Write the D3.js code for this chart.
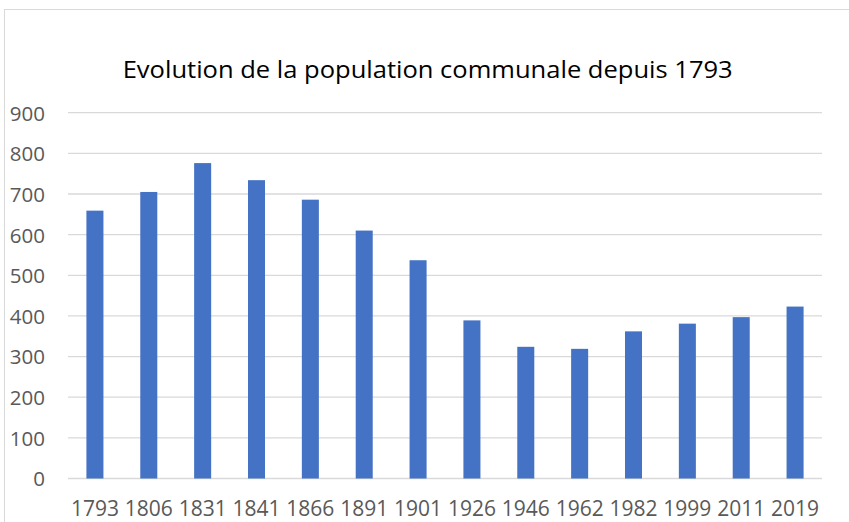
<!DOCTYPE html>
<html>
<head>
<meta charset="utf-8">
<script src="https://cdn.jsdelivr.net/npm/d3@7"></script>
<style>
  body { margin: 0; background: #fff; }
  svg text { font-family: "Open Sans", sans-serif; }
</style>
</head>
<body>
<svg id="chart"></svg>
<script>

/////////////////////////////////
// DATA
//////////////////////////////////

var years = ["1793", "1806", "1831", "1841", "1866", "1891", "1901", "1926", "1946", "1962", "1982", "1999", "2011", "2019"];
var population = [659, 705, 776, 734, 686, 610, 537, 389, 324, 319, 362, 381, 397, 423];
var yTicks = [0, 100, 200, 300, 400, 500, 600, 700, 800, 900];
var chartTitle = "Evolution de la population communale depuis 1793";


/////////////////////////////////
// SIZES
//////////////////////////////////

var width = 849;
var height = 522;
var margin = {top: 112.7, right: 27, bottom: 43.5, left: 68};

var svg = d3.select("#chart")
  .attr("width", width)
  .attr("height", height);

// chart frame (cut off at right and bottom)
svg.append("rect")
  .attr("x", 4.5)
  .attr("y", 9.5)
  .attr("width", width + 10)
  .attr("height", height + 10)
  .attr("fill", "none")
  .attr("stroke", "#d9d9d9")
  .attr("stroke-width", 1);

var x = d3.scaleBand()
  .domain(years)
  .range([margin.left, width - margin.right])
  .paddingInner(0.684)
  .paddingOuter(0.342);

var y = d3.scaleLinear()
  .domain([0, 900])
  .range([height - margin.bottom, margin.top]);


/////////////////////////////////
// GRIDLINES + AXES
//////////////////////////////////

svg.append("g")
  .selectAll("line")
  .data(yTicks)
  .enter()
  .append("line")
    .attr("x1", margin.left)
    .attr("x2", width - margin.right)
    .attr("y1", function(d) { return y(d); })
    .attr("y2", function(d) { return y(d); })
    .attr("stroke", "#d9d9d9")
    .attr("stroke-width", 1.3);

var yAxis = svg.append("g")
  .attr("transform", "translate(" + 45 + ",0)")
  .call(d3.axisLeft(y).tickValues(yTicks).tickSize(0).tickPadding(0));
yAxis.select(".domain").remove();
yAxis.selectAll("text")
  .attr("fill", "#595959")
  .style("font-size", "20.5px")
  .attr("dy", "0.36em");

var xAxis = svg.append("g")
  .attr("transform", "translate(0," + (height - margin.bottom) + ")")
  .call(d3.axisBottom(x).tickSize(0).tickPadding(22));
xAxis.select(".domain").remove();
xAxis.selectAll("text")
  .attr("fill", "#595959")
  .style("font-size", "21px")
  .attr("dy", "0.72em");


/////////////////////////////////
// BARS
//////////////////////////////////

svg.append("g")
  .selectAll("rect")
  .data(population)
  .enter()
  .append("rect")
    .attr("x", function(d, i) { return x(years[i]); })
    .attr("y", function(d) { return y(d); })
    .attr("width", x.bandwidth())
    .attr("height", function(d) { return y(0) - y(d); })
    .attr("fill", "#4472c4");


/////////////////////////////////
// TITLE
//////////////////////////////////

svg.append("text")
  .attr("x", 427.7)
  .attr("y", 78.3)
  .attr("text-anchor", "middle")
  .attr("fill", "#000")
  .style("font-size", "23px")
  .attr("textLength", 610)
  .attr("lengthAdjust", "spacingAndGlyphs")
  .text(chartTitle);

</script>
</body>
</html>
